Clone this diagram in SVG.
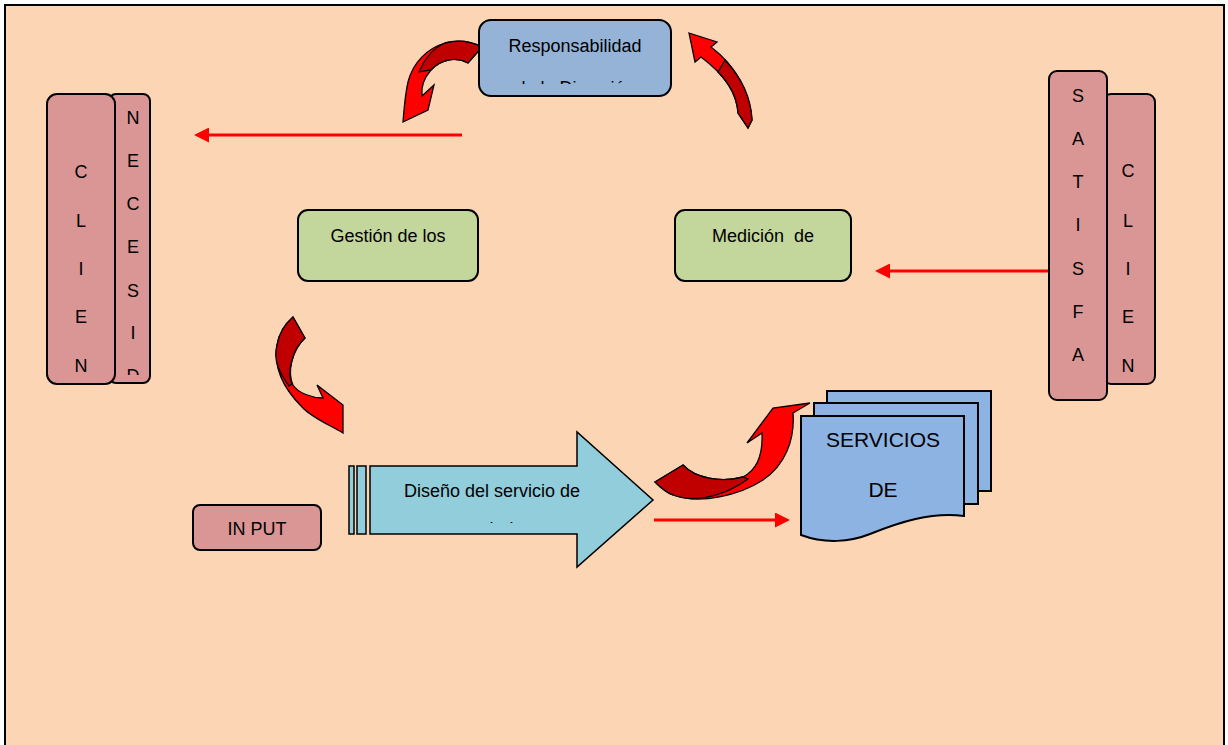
<svg xmlns="http://www.w3.org/2000/svg" width="1228" height="745" viewBox="0 0 1228 745">
<style>
text{font-family:"Liberation Sans",Arial,sans-serif;font-size:18px;fill:#000;text-anchor:middle}
.box{stroke:#000;stroke-width:2}
.pink{fill:#D99694}
.green{fill:#C3D69B}
.blue{fill:#95B3D7}
.doc{fill:#8DB3E2;stroke:#000;stroke-width:2}
.red{fill:#FF0000;stroke:#000;stroke-width:1.3;stroke-linejoin:miter}
.dark{fill:#C00000;stroke:#000;stroke-width:1.3}
.line{stroke:#FF0000;stroke-width:3;fill:none}
</style>
<defs>
<marker id="ah" markerWidth="15" markerHeight="15" refX="0" refY="7.5" orient="auto" markerUnits="userSpaceOnUse" viewBox="0 0 15 15">
<path d="M0,0 L15,7.5 L0,15 Z" fill="#FF0000"/>
</marker>
<clipPath id="cResp"><rect x="479" y="20" width="192" height="64"/></clipPath>
<clipPath id="cNec"><rect x="109" y="94" width="41" height="281"/></clipPath>
<clipPath id="cDis"><rect x="370" y="466" width="280" height="57"/></clipPath>
</defs>
<rect x="0" y="0" width="1228" height="745" fill="#fff"/>
<rect id="frame" x="5" y="5" width="1219" height="760" fill="#FCD5B4" stroke="#000" stroke-width="2"/>

<g id="connectors">
<line class="line" x1="462" y1="135" x2="209" y2="135" marker-end="url(#ah)"/>
<line class="line" x1="1048" y1="271" x2="890" y2="271" marker-end="url(#ah)"/>
<line class="line" x1="654" y1="520" x2="775" y2="520" marker-end="url(#ah)"/>
<g id="curved-top-left">
<path class="red" d="M482,47 L468,63 C455,56 440,60 431,70 C424,78 421,88 422,96 L434,85 L428,110 L403,122 C404,110 405,95 408,82 C413,62 428,48 445,43 C460,39 472,42 482,47 Z"/>
<path class="dark" d="M482,47 L468,63 C455,56 440,60 431,70 L419,72 C425,58 433,48 445,43 C460,39 472,42 482,47 Z"/>
</g>
<g id="curved-top-right">
<path class="red" d="M689,33 L717,42 L711,47 C735,65 750,92 752,120 L748,128 L738,113 C737,95 725,75 701,57 L695,62 Z"/>
<path class="dark" d="M725,60 C742,78 751,98 752,120 L748,128 L738,113 C737,98 730,84 718,72 Z"/>
</g>
<g id="curved-mid-left">
<path class="red" d="M293,317 L305,338 C292,350 287,372 293,385 C298,393 312,398 323,398 L317,385 L343,405 L343,433 C330,425 312,418 302,407 C285,390 273,370 277,345 C279,333 285,324 293,317 Z"/>
<path class="dark" d="M293,317 L305,338 C292,350 287,372 292,384 L289,386 C279,372 273,360 277,345 C279,333 285,324 293,317 Z"/>
</g>
<g id="curved-bottom-right">
<path class="red" d="M655,482 L683,465 C695,478 720,483 743,477 C757,470 763,455 762,433 L747,443 L773,408 L810,403 L793,413 C795,440 785,465 763,480 C740,495 700,505 673,495 C665,492 660,487 655,482 Z"/>
<path class="dark" d="M655,482 L683,465 C695,478 720,483 743,477 L748,479 C730,492 700,505 673,495 C665,492 660,487 655,482 Z"/>
</g>
</g>

<g id="responsabilidad">
<rect class="box blue" x="479" y="20" width="192" height="76" rx="12"/>
<text x="575" y="52">Responsabilidad</text>
<text x="575" y="94" clip-path="url(#cResp)">de la Dirección</text>
</g>

<g id="necesidades">
<rect class="box pink" x="109" y="94" width="41" height="289" rx="7"/>
<g clip-path="url(#cNec)">
<text x="133" y="124">N</text>
<text x="133" y="167">E</text>
<text x="133" y="210">C</text>
<text x="133" y="253">E</text>
<text x="133" y="297">S</text>
<text x="133" y="339">I</text>
<text x="133" y="382">D</text>
</g>
</g>
<g id="cliente-left">
<rect class="box pink" x="47" y="94" width="68" height="290" rx="10"/>
<text x="81" y="178">C</text>
<text x="81" y="227">L</text>
<text x="81" y="275">I</text>
<text x="81" y="323">E</text>
<text x="81" y="372">N</text>
</g>

<g id="cliente-right">
<rect class="box pink" x="1103" y="94" width="52" height="290" rx="8"/>
<text x="1128" y="177">C</text>
<text x="1128" y="227">L</text>
<text x="1128" y="275">I</text>
<text x="1128" y="323">E</text>
<text x="1128" y="372">N</text>
</g>
<g id="satisfaccion">
<rect class="box pink" x="1049" y="71" width="58" height="329" rx="8"/>
<text x="1078" y="102">S</text>
<text x="1078" y="145">A</text>
<text x="1078" y="188">T</text>
<text x="1078" y="231">I</text>
<text x="1078" y="275">S</text>
<text x="1078" y="318">F</text>
<text x="1078" y="361">A</text>
</g>

<g id="gestion">
<rect class="box green" x="298" y="210" width="180" height="71" rx="10"/>
<text x="388" y="242">Gestión de los</text>
</g>
<g id="medicion">
<rect class="box green" x="675" y="210" width="176" height="71" rx="10"/>
<text x="763" y="242" xml:space="preserve">Medición  de</text>
</g>

<g id="input">
<rect class="box pink" x="193" y="505" width="128" height="45" rx="7"/>
<text x="257" y="535">IN PUT</text>
</g>

<g id="diseno">
<rect x="349" y="466" width="5" height="68" fill="#92CDDC" stroke="#000" stroke-width="1.5"/>
<rect x="357" y="466" width="9" height="68" fill="#92CDDC" stroke="#000" stroke-width="1.5"/>
<path d="M370,466 L577,466 L577,432 L653,500 L577,567 L577,534 L370,534 Z" fill="#92CDDC" stroke="#000" stroke-width="1.5"/>
<text x="492" y="497">Diseño del servicio de</text>
<text x="492" y="535" clip-path="url(#cDis)">salud</text>
</g>

<g id="servicios">
<rect class="doc" x="827" y="391" width="164" height="100"/>
<rect class="doc" x="814" y="403" width="164" height="101"/>
<path class="doc" d="M801,416 L964,416 L964,516 C930,512 900,522 870,534 C850,542 825,544 801,535 Z"/>
<text x="883" y="447" style="font-size:21px">SERVICIOS</text>
<text x="883" y="497" style="font-size:21px">DE</text>
</g>
</svg>
